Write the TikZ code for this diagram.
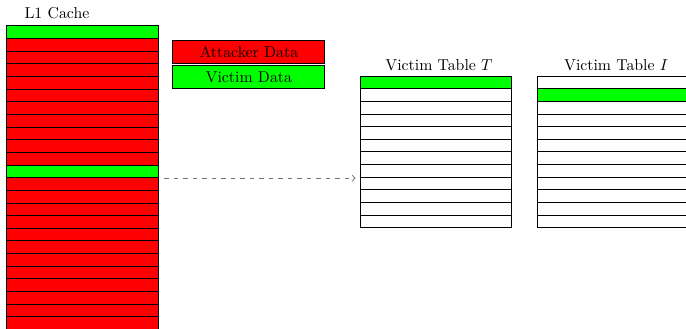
\documentclass[tikz,border=0pt]{standalone}
\definecolor{attacker}{RGB}{255,0,0}
\definecolor{victim}{RGB}{0,255,0}
\tikzstyle{line}=[draw,semithick,minimum width=96pt,minimum height=8pt,inner sep=0pt]
\tikzstyle{legend}=[draw,semithick,minimum width=96pt,minimum height=14.7pt,inner sep=0pt]
\tikzstyle{title}=[anchor=base]
\tikzstyle{pointer}=[draw,semithick,dashed,black!55,->,shorten <=3.2pt,shorten >=2.5pt]

\begin{document}
\begin{tikzpicture}[x=1pt,y=-1pt]
  \useasboundingbox (0,0) rectangle (433.9,207.5);

  % First we draw the cache lines
  \node[title] (cache-title) at (36,12) {L1 Cache};
  \foreach \i in {0,...,23} {
    \ifnum\i=0 \def\c{victim}\else\ifnum\i=11 \def\c{victim}\else\def\c{attacker}\fi\fi
    \node[line,fill=\c] (cache-\i) at (52.4,20.4+8*\i) {};
  }

  % The legend
  \node[legend,fill=attacker] (attacker) at (157.4,32.65) {Attacker Data};
  \node[legend,fill=victim] (victim) at (157.4,48.6) {Victim Data};

  % Then the victim tables
  \foreach \pos/\name/\hit in {275.7/T/0, 387.7/I/1} {
    \node[title] (\name-title) at (\pos+2,44.3) {Victim Table $\name$};
    \foreach \i in {0,...,11} {
      \ifnum\i=\hit \def\c{victim}\else\def\c{white}\fi
      \node[line,fill=\c] (\name-\i) at (\pos,52.1+8*\i) {};
    }
  }

  % Connect the cache line with the table
  \path[pointer] (cache-11.south east) -- (cache-11.south east -| T-7.west);
\end{tikzpicture}
\end{document}
